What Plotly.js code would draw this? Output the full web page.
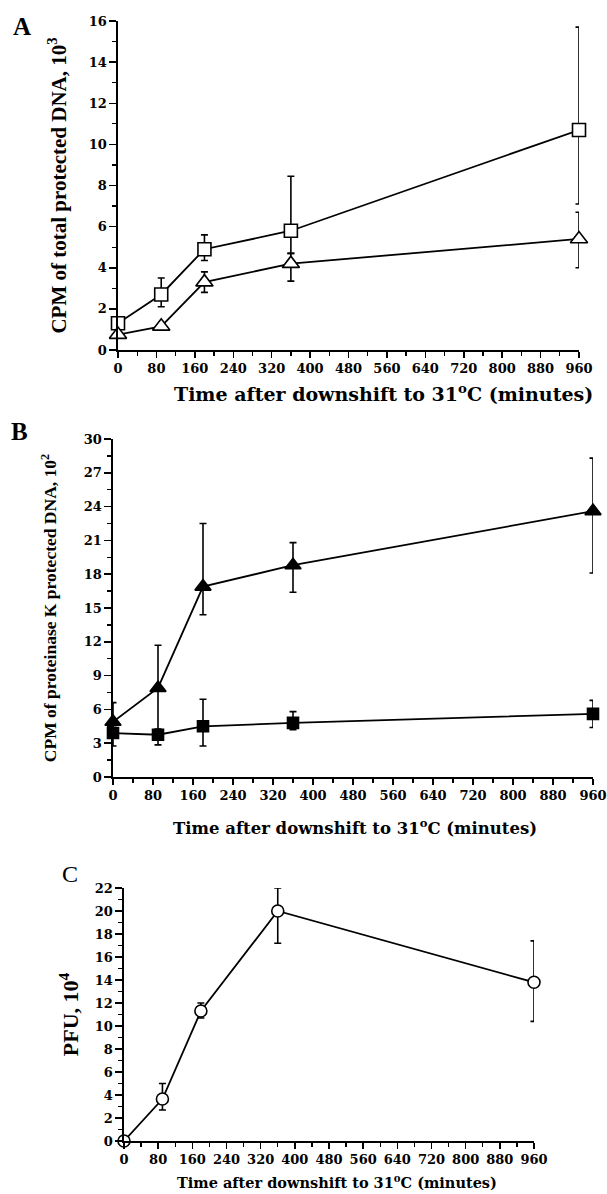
<!DOCTYPE html>
<html>
<head>
<meta charset="utf-8">
<script src="https://cdn.plot.ly/plotly-3.0.1.min.js"></script>
<style>html,body{margin:0;padding:0;background:#fff;}#chart{width:607px;height:1194px;}</style>
</head>
<body>
<div id="chart"></div>
<script>
// ---- data ----
const times = [0, 90, 180, 360, 960];
const xTickVals = [0, 80, 160, 240, 320, 400, 480, 560, 640, 720, 800, 880, 960];

// Panel A: total protected DNA (CPM, 10^3)
const aSquare = [1.3, 2.7, 4.9, 5.8, 10.7];
const aSquarePlus = [0, 0.8, 0.7, 2.65, 5.0];
const aSquareMinus = [0, 0.6, 0.55, 1.1, 3.6];
const aTriangle = [0.75, 1.15, 3.3, 4.2, 5.4];
const aTrianglePlus = [0, 0, 0.5, 0.5, 1.3];
const aTriangleMinus = [0, 0, 0.5, 0.85, 1.4];

// Panel B: proteinase K protected DNA (CPM, 10^2)
const bTriangle = [4.9, 7.9, 16.9, 18.8, 23.6];
const bTrianglePlus = [1.7, 3.8, 5.6, 2.0, 4.7];
const bTriangleMinus = [0.5, 4.0, 2.5, 2.4, 5.5];
const bSquare = [3.9, 3.75, 4.5, 4.8, 5.6];
const bSquarePlus = [0.5, 0.5, 2.4, 1.0, 1.2];
const bSquareMinus = [1.15, 0.9, 1.75, 0.6, 1.2];

// Panel C: PFU, 10^4
const cCircle = [0, 3.65, 11.3, 20.0, 13.8];
const cCirclePlus = [0, 1.35, 0.7, 2.0, 3.6];
const cCircleMinus = [0, 0.95, 0.6, 2.8, 3.4];

const xTitle = 'Time after downshift to 31<sup>o</sup>C (minutes)';

// ---- styles ----
const W = 607, H = 1194;
const px = v => v / W;
const py = v => 1 - v / H;

function errBar(plus, minus) {
  return {type: 'data', symmetric: false, array: plus, arrayminus: minus,
          color: 'black', thickness: 1.6, width: 3.5, visible: true};
}
function trace(y, plus, minus, symbol, fill, size, xa, ya) {
  return {
    x: times, y: y, xaxis: xa, yaxis: ya, type: 'scatter', mode: 'lines+markers',
    line: {color: 'black', width: 1.8},
    marker: {symbol: symbol, size: size, color: fill, line: {color: 'black', width: 1.6}},
    error_y: errBar(plus, minus),
    cliponaxis: false, showlegend: false, hoverinfo: 'x+y'
  };
}

const tickFont = {family: 'DejaVu Serif', size: 13, color: 'black', weight: 'bold'};
function xAxis(domain, anchor) {
  return {
    domain: domain, anchor: anchor, range: [0, 960], tickmode: 'array', tickvals: xTickVals,
    showline: true, linecolor: 'black', linewidth: 1.6, ticks: 'outside', ticklen: 6,
    tickwidth: 1.5, tickcolor: 'black', showgrid: false, zeroline: false, automargin: false,
    tickfont: tickFont,
    minor: {dtick: 40, tick0: 0, ticks: 'outside', ticklen: 4, tickwidth: 1.3, tickcolor: 'black', showgrid: false}
  };
}
function yAxis(domain, anchor, range, dtick, minorDtick, title, titleSize, standoff) {
  return {
    domain: domain, anchor: anchor, range: range, dtick: dtick, tick0: 0,
    showline: true, linecolor: 'black', linewidth: 1.6, ticks: 'outside', ticklen: 7,
    tickwidth: 1.5, tickcolor: 'black', showgrid: false, zeroline: false, automargin: false,
    tickfont: tickFont,
    minor: {dtick: minorDtick, ticks: 'outside', ticklen: 4, tickwidth: 1.3, tickcolor: 'black', showgrid: false},
    title: {text: title, standoff: standoff,
            font: {family: 'Liberation Serif', size: titleSize, color: 'black', weight: 'bold'}}
  };
}

const data = [
  trace(aSquare, aSquarePlus, aSquareMinus, 'square', 'white', 13, 'x', 'y'),
  trace(aTriangle, aTrianglePlus, aTriangleMinus, 'triangle-up', 'white', 15, 'x', 'y'),
  trace(bTriangle, bTrianglePlus, bTriangleMinus, 'triangle-up', 'black', 14, 'x2', 'y2'),
  trace(bSquare, bSquarePlus, bSquareMinus, 'square', 'black', 11, 'x2', 'y2'),
  trace(cCircle, cCirclePlus, cCircleMinus, 'circle', 'white', 12, 'x3', 'y3')
];

function xTitleFont(size) { return {family: 'DejaVu Serif', size: size, color: 'black', weight: 'bold'}; }
const layout = {
  width: W, height: H, margin: {l: 0, r: 0, t: 0, b: 0},
  paper_bgcolor: 'white', plot_bgcolor: 'white', showlegend: false,
  xaxis: xAxis([px(118), px(579)], 'y'),
  yaxis: yAxis([py(350), py(21)], 'x', [0, 16], 2, 1, 'CPM of total protected DNA, 10<sup>3</sup>', 21, 16),
  xaxis2: xAxis([px(113), px(593)], 'y2'),
  yaxis2: yAxis([py(777), py(439)], 'x2', [0, 30], 3, 1.5, 'CPM of proteinase K protected DNA, 10<sup>2</sup>', 17.5, 22),
  xaxis3: xAxis([px(124), px(534)], 'y3'),
  yaxis3: yAxis([py(1141), py(888)], 'x3', [0, 22], 2, 1, 'PFU, 10<sup>4</sup>', 22, 10),
  annotations: [
    {text: xTitle, xref: 'paper', yref: 'paper', x: px(383), y: py(393), showarrow: false,
     xanchor: 'center', yanchor: 'middle', font: xTitleFont(19)},
    {text: xTitle, xref: 'paper', yref: 'paper', x: px(355), y: py(827), showarrow: false,
     xanchor: 'center', yanchor: 'middle', font: xTitleFont(16.5)},
    {text: xTitle, xref: 'paper', yref: 'paper', x: px(337), y: py(1181), showarrow: false,
     xanchor: 'center', yanchor: 'middle', font: xTitleFont(14.5)},
    {text: 'A', xref: 'paper', yref: 'paper', x: px(22), y: py(26), showarrow: false,
     xanchor: 'center', yanchor: 'middle', font: {family: 'Liberation Serif', size: 25, color: 'black', weight: 'bold'}},
    {text: 'B', xref: 'paper', yref: 'paper', x: px(19), y: py(431), showarrow: false,
     xanchor: 'center', yanchor: 'middle', font: {family: 'Liberation Serif', size: 25, color: 'black', weight: 'bold'}},
    {text: 'C', xref: 'paper', yref: 'paper', x: px(70), y: py(874), showarrow: false,
     xanchor: 'center', yanchor: 'middle', font: {family: 'Liberation Serif', size: 24, color: 'black'}}
  ]
};

Plotly.newPlot('chart', data, layout, {staticPlot: true, displayModeBar: false});
</script>
</body>
</html>
